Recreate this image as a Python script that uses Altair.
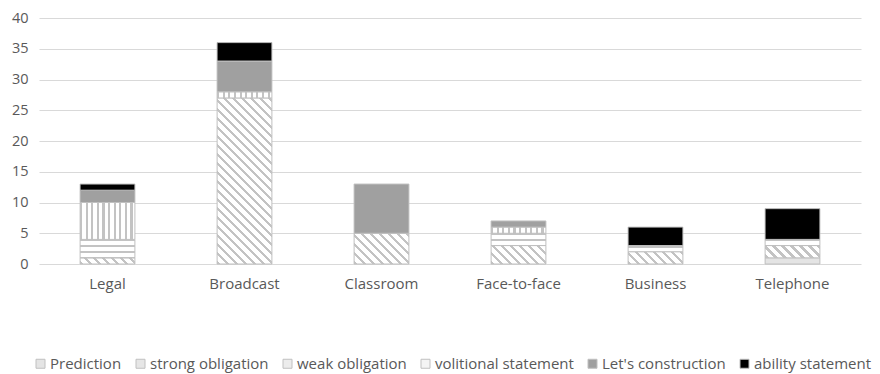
import math
import altair as alt

# Counts of each directive type per interaction setting
categories = ["Legal", "Broadcast", "Classroom", "Face-to-face", "Business", "Telephone"]
series = ["Prediction", "strong obligation", "weak obligation",
          "volitional statement", "Let's construction", "ability statement"]
prediction = [0, 0, 0, 0, 0, 1]
strong_obligation = [1, 27, 5, 3, 2, 2]
weak_obligation = [3, 0, 0, 2, 1, 1]
volitional_statement = [6, 1, 0, 1, 0, 0]
lets_construction = [2, 5, 8, 1, 0, 0]
ability_statement = [1, 3, 0, 0, 3, 5]

values_by_series = [prediction, strong_obligation, weak_obligation,
                    volitional_statement, lets_construction, ability_statement]

# Plot geometry (used to size the hatching stripes)
W, H = 822, 246
Y_MAX = 40
PX_PER_UNIT = H / Y_MAX
N_CAT = len(categories)
PAD_INNER, PAD_OUTER = 0.6, 0.3
STEP = W / (N_CAT - PAD_INNER + 2 * PAD_OUTER)
BAR_W = STEP * (1 - PAD_INNER)

INK = "#c3c3c3"
PAPER = "#ffffff"
FONT = "Open Sans"
TEXT = "#595959"


def stripe_stops(n, frac, ink=INK, paper=PAPER):
    stops = []
    k = 0
    while k / n < 1:
        a = k / n
        b = min((k + frac) / n, 1.0)
        c = min((k + 1) / n, 1.0)
        stops += [{"offset": a, "color": ink}, {"offset": b, "color": ink},
                  {"offset": b, "color": paper}, {"offset": c, "color": paper}]
        k += 1
    return stops


def diagonal(h, period=9.0, frac=0.42):
    w = BAR_W
    s = (w + h) / (w * w + h * h)
    return {"gradient": "linear", "x1": 0, "y1": 1,
            "x2": w * s, "y2": 1 - h * s,
            "stops": stripe_stops((w + h) / period, frac)}


def horizontal_lines(h, period=6.0, frac=0.33):
    return {"gradient": "linear", "x1": 0, "y1": 0, "x2": 0, "y2": 1,
            "stops": stripe_stops(max(h / period, 1.0), frac)}


def vertical_lines(period=5.6, frac=0.36):
    return {"gradient": "linear", "x1": 0, "y1": 0, "x2": 1, "y2": 0,
            "stops": stripe_stops(BAR_W / period, frac)}


def fill_for(name, h):
    if name == "Prediction":
        return "#e4e4e4"
    if name == "strong obligation":
        return diagonal(h)
    if name == "weak obligation":
        return horizontal_lines(h)
    if name == "volitional statement":
        return vertical_lines()
    if name == "Let's construction":
        return "#a0a0a0"
    return "#000000"


records = []
for ci, cat in enumerate(categories):
    base = 0
    for si, name in enumerate(series):
        v = values_by_series[si][ci]
        if v > 0:
            records.append({"category": cat, "series": name, "value": v,
                            "y0": base, "y1": base + v,
                            "pat": fill_for(name, v * PX_PER_UNIT)})
        base += v

data = alt.Data(values=records)

x_enc = alt.X("category:N", sort=categories,
              scale=alt.Scale(paddingInner=PAD_INNER, paddingOuter=PAD_OUTER),
              axis=alt.Axis(title=None, labelAngle=0, ticks=False, domain=False,
                            labelColor=TEXT, labelFontSize=15, labelFont=FONT,
                            labelPadding=12))
y_enc = alt.Y("y0:Q", scale=alt.Scale(domain=[0, Y_MAX], nice=False),
              axis=alt.Axis(title=None, values=list(range(0, 41, 5)), ticks=False,
                            domain=False, gridColor="#d9d9d9", labelColor=TEXT,
                            labelFontSize=14.5, labelFont=FONT, labelPadding=11))

legend_colors = ["#e4e4e4", "#e6e6e6", "#ececec", "#f4f4f4", "#a0a0a0", "#000000"]

base_layer = alt.Chart(data).mark_bar().encode(
    x=x_enc, y=y_enc, y2="y1:Q",
    fill=alt.Fill("series:N", sort=series,
                  scale=alt.Scale(domain=series, range=legend_colors),
                  legend=alt.Legend(title=None, orient="none", direction="horizontal",
                                    legendX=-6, legendY=338,
                                    symbolType="square", symbolSize=81,
                                    symbolStrokeColor="#a6a6a6", symbolStrokeWidth=1,
                                    labelFont=FONT, labelFontSize=15, labelColor=TEXT,
                                    labelOffset=2, columnPadding=11)),
)

pattern_layer = alt.Chart(data).mark_bar(stroke="#c0c0c0", strokeWidth=1).encode(
    x=x_enc, y=y_enc, y2="y1:Q",
    fill=alt.Fill("pat:N", scale=None),
)

chart = alt.layer(base_layer, pattern_layer).properties(
    width=W, height=H,
    autosize="none",
    padding={"left": 39, "top": 18, "right": 19, "bottom": 110},
).configure_view(stroke=None)

chart.save("out.html", embed_options={"renderer": "svg", "actions": False})
